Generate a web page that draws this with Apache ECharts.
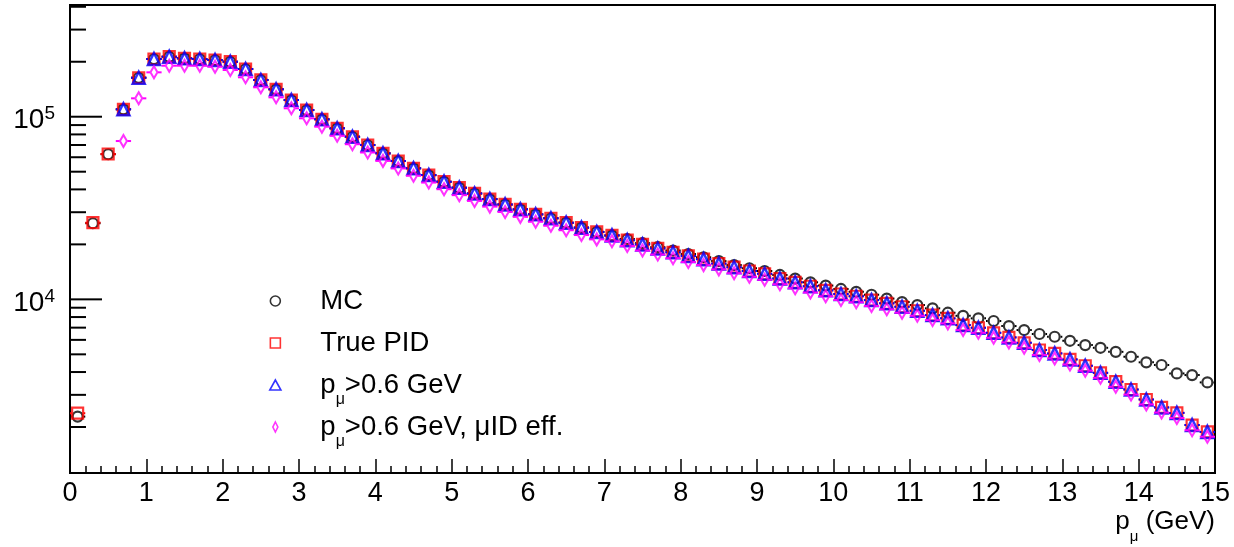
<!DOCTYPE html>
<html><head><meta charset="utf-8">
<script src="https://cdn.jsdelivr.net/npm/echarts@6/dist/echarts.min.js"></script>
<style>html,body{margin:0;padding:0;background:#fff}#c{width:1234px;height:547px}</style>
</head><body><div id="c"></div>
<script>
// bin centres of p_mu (GeV)
const xCenters = [0.1,0.3,0.5,0.7,0.9,1.1,1.3,1.5,1.7,1.9,2.1,2.3,2.5,2.7,2.9,3.1,3.3,3.5,3.7,3.9,
  4.1,4.3,4.5,4.7,4.9,5.1,5.3,5.5,5.7,5.9,6.1,6.3,6.5,6.7,6.9,7.1,7.3,7.5,7.7,7.9,
  8.1,8.3,8.5,8.7,8.9,9.1,9.3,9.5,9.7,9.9,10.1,10.3,10.5,10.7,10.9,11.1,11.3,11.5,11.7,11.9,
  12.1,12.3,12.5,12.7,12.9,13.1,13.3,13.5,13.7,13.9,14.1,14.3,14.5,14.7,14.9];

const mcValues = [2280,26100,62300,109800,163500,207000,213100,208800,207000,204400,200100,182500,159000,141300,123400,108800,96800,86400,77700,70000,
  63000,57200,52200,47900,44100,40900,38000,35400,33100,31100,29200,27800,26300,24700,23400,22400,21400,20300,19300,18500,
  17700,17000,16200,15400,14800,14300,13600,13000,12400,11900,11400,11000,10600,10100,9660,9310,8930,8450,8130,7870,
  7610,7140,6790,6460,6240,5930,5620,5430,5160,4850,4520,4370,3930,3850,3510];

const truePidValues = [2380,26300,62500,109800,163500,207000,213100,208800,207000,204400,200100,182500,159000,141300,123400,108800,96800,86400,77700,70000,
  63000,57200,52200,47900,44100,40900,38000,35400,33100,31100,29200,27800,26300,24700,23400,22400,21100,20000,19000,18100,
  17300,16600,15700,15000,14300,13800,13000,12400,11800,11200,10700,10400,9910,9510,9110,8660,8200,7870,7230,6990,
  6560,6190,5780,5280,5060,4690,4330,3960,3540,3210,2830,2560,2390,2050,1880];

const pCutValues = [null,null,null,109800,163500,207000,213100,208800,207000,204400,200100,182500,159000,141300,123400,108800,96800,86400,77700,70000,
  63000,57200,52200,47900,44100,40900,38000,35400,33100,31100,29200,27800,26300,24700,23400,22400,21100,20000,19000,18100,
  17300,16600,15700,15000,14300,13800,13000,12400,11800,11200,10700,10400,9910,9510,9110,8660,8200,7870,7230,6990,
  6560,6190,5780,5280,5060,4690,4330,3960,3540,3210,2830,2560,2390,2050,1880];

const muIdValues = [null,null,null,73600,126100,175000,190300,190300,190300,187900,180200,164400,144900,127700,111200,98000,88200,78600,70700,63700,
  57300,52100,47500,43600,40100,37200,34600,32200,30100,28300,26600,25300,23900,22500,21300,20800,19600,18500,17600,16800,
  16000,15400,14600,13900,13300,12800,12100,11500,10900,10400,9920,9640,9190,8820,8450,8130,7700,7390,6790,6560,
  6160,5810,5430,4960,4750,4400,4070,3720,3320,3010,2660,2400,2240,1920,1770];

const seriesNames = ['MC', 'True PID', 'pμ>0.6 GeV', 'pμ>0.6 GeV, μID eff.'];
const xTickLabels = ['0','1','2','3','4','5','6','7','8','9','10','11','12','13','14','15'];
const yMajorTicks = [10000, 100000];
const yMinorTicks = [2000,3000,4000,5000,6000,7000,8000,9000,20000,30000,40000,50000,60000,70000,80000,90000,200000,300000,400000];
const binHalfWidth = 0.1;

const FONT = 'Liberation Sans';
const chart = echarts.init(document.getElementById('c'), null, {renderer: 'canvas'});

function pairs(vals) {
  const out = [];
  xCenters.forEach((x, i) => { if (vals[i] != null) out.push([x, vals[i]]); });
  return out;
}

function errBarSeries(vals, color, half, z) {
  return {
    type: 'custom', z: z, silent: true, clip: false,
    data: pairs(vals),
    renderItem: function (params, api) {
      const x = api.value(0), y = api.value(1);
      const pc = api.coord([x, y]);
      const pl = api.coord([x - binHalfWidth, y]);
      const pr = api.coord([x + binHalfWidth, y]);
      return {type: 'group', children: [
        {type: 'line', shape: {x1: pl[0], y1: pc[1], x2: pc[0] - half, y2: pc[1]}, style: {stroke: color, lineWidth: 2}},
        {type: 'line', shape: {x1: pc[0] + half, y1: pc[1], x2: pr[0], y2: pc[1]}, style: {stroke: color, lineWidth: 2}}
      ]};
    }
  };
}

const yTickData = yMajorTicks.map(v => [0, v, 1]).concat(yMinorTicks.map(v => [0, v, 0]));

const legendLabels = {};
legendLabels[seriesNames[0]] = '{a|MC}{s| }';
legendLabels[seriesNames[1]] = '{a|True PID}{s| }';
legendLabels[seriesNames[2]] = '{a|p}{s|μ}{a|>0.6 GeV}';
legendLabels[seriesNames[3]] = '{a|p}{s|μ}{a|>0.6 GeV, μID eff.}';

const richMain = {
  a: {fontFamily: FONT, fontSize: 26, lineHeight: 30, color: '#000'},
  s: {fontFamily: FONT, fontSize: 15, lineHeight: 14, padding: [30, 0, 0, 0], color: '#000'}
};
const richLegend = {
  a: {fontFamily: FONT, fontSize: 27.5, lineHeight: 30, color: '#000'},
  s: {fontFamily: FONT, fontSize: 16, lineHeight: 14, padding: [30, 0, 0, 0], color: '#000'}
};

const option = {
  animation: false,
  backgroundColor: '#fff',
  grid: {left: 70, right: 19, top: 5, bottom: 74, show: true, borderColor: '#000', borderWidth: 2, backgroundColor: 'transparent'},
  xAxis: {
    type: 'value', min: 0, max: 15, interval: 1,
    axisLine: {show: true, onZero: false, lineStyle: {color: '#000', width: 2}},
    axisTick: {show: true, inside: true, length: 14, lineStyle: {color: '#000', width: 1.5}},
    minorTick: {show: true, splitNumber: 5, length: 7, lineStyle: {color: '#000', width: 1.5}},
    splitLine: {show: false},
    axisLabel: {fontFamily: FONT, fontSize: 27, color: '#000', margin: 7,
      formatter: v => xTickLabels[Math.round(v)]}
  },
  yAxis: {
    type: 'log', logBase: 10, min: 1120, max: 409000,
    axisLine: {show: true, lineStyle: {color: '#000', width: 2}},
    axisTick: {show: false},
    splitLine: {show: false},
    axisLabel: {
      showMinLabel: false, showMaxLabel: false, margin: 15, padding: [8, 0, 0, 0],
      formatter: function (v) {
        const e = Math.round(Math.log10(v));
        if (Math.abs(Math.log10(v) - e) > 1e-6) return '';
        return '{b|10}{e|' + e + '}';
      },
      rich: {
        b: {fontFamily: FONT, fontSize: 28, lineHeight: 30, color: '#000'},
        e: {fontFamily: FONT, fontSize: 19, lineHeight: 19, padding: [0, 0, 14, 0], color: '#000'}
      }
    }
  },
  legend: {
    orient: 'vertical', left: 264, top: 273, itemWidth: 80, itemHeight: 10, itemGap: -4,
    selectedMode: false,
    data: [
      {name: seriesNames[0], icon: 'circle', itemStyle: {color: 'rgba(0,0,0,0)', borderColor: '#000', borderWidth: 1.6}},
      {name: seriesNames[1], icon: 'path://M0,0L10,0L10,10L0,10Z', itemStyle: {color: 'rgba(0,0,0,0)', borderColor: '#ff0000', borderWidth: 1.6}},
      {name: seriesNames[2], icon: 'path://M5,0L10,9L0,9Z', itemStyle: {color: 'rgba(0,0,0,0)', borderColor: '#0000ff', borderWidth: 1.6}},
      {name: seriesNames[3], icon: 'path://M5,0L10,10L5,20L0,10Z', itemStyle: {color: 'rgba(0,0,0,0)', borderColor: '#ff00ff', borderWidth: 1.6}}
    ],
    formatter: name => legendLabels[name],
    textStyle: {fontFamily: FONT, fontSize: 27.5, color: '#000', rich: richLegend}
  },
  graphic: [{
    type: 'text', right: 19, top: 499, silent: true,
    style: {text: '{a|p}{s|μ}{a| (GeV)}', rich: richMain, fill: '#000'}
  }],
  series: [
    errBarSeries(mcValues, '#000', 6, 3),
    {name: seriesNames[0], type: 'scatter', z: 4, data: pairs(mcValues), symbol: 'circle', symbolSize: 10,
      itemStyle: {color: 'rgba(0,0,0,0)', borderColor: '#000', borderWidth: 2.2}},
    errBarSeries(truePidValues, '#ff0000', 6, 5),
    {name: seriesNames[1], type: 'scatter', z: 6, data: pairs(truePidValues), symbol: 'rect', symbolSize: 11,
      itemStyle: {color: 'rgba(0,0,0,0)', borderColor: '#ff0000', borderWidth: 2.2}},
    errBarSeries(pCutValues, '#0000ff', 6, 7),
    {name: seriesNames[2], type: 'scatter', z: 8, data: pairs(pCutValues), symbol: 'triangle', symbolSize: 12,
      itemStyle: {color: 'rgba(0,0,0,0)', borderColor: '#0000ff', borderWidth: 2.5}},
    errBarSeries(muIdValues, '#ff00ff', 4, 9),
    {name: seriesNames[3], type: 'scatter', z: 10, data: pairs(muIdValues), symbol: 'diamond', symbolSize: [7, 12],
      itemStyle: {color: 'rgba(0,0,0,0)', borderColor: '#ff00ff', borderWidth: 2.2}},
    {type: 'custom', z: 11, silent: true, clip: false, data: yTickData,
      renderItem: function (params, api) {
        const p = api.coord([api.value(0), api.value(1)]);
        const len = api.value(2) ? 32 : 16;
        return {type: 'line', shape: {x1: p[0], y1: p[1], x2: p[0] + len, y2: p[1]}, style: {stroke: '#000', lineWidth: 2}};
      }}
  ]
};
chart.setOption(option);
</script></body></html>
